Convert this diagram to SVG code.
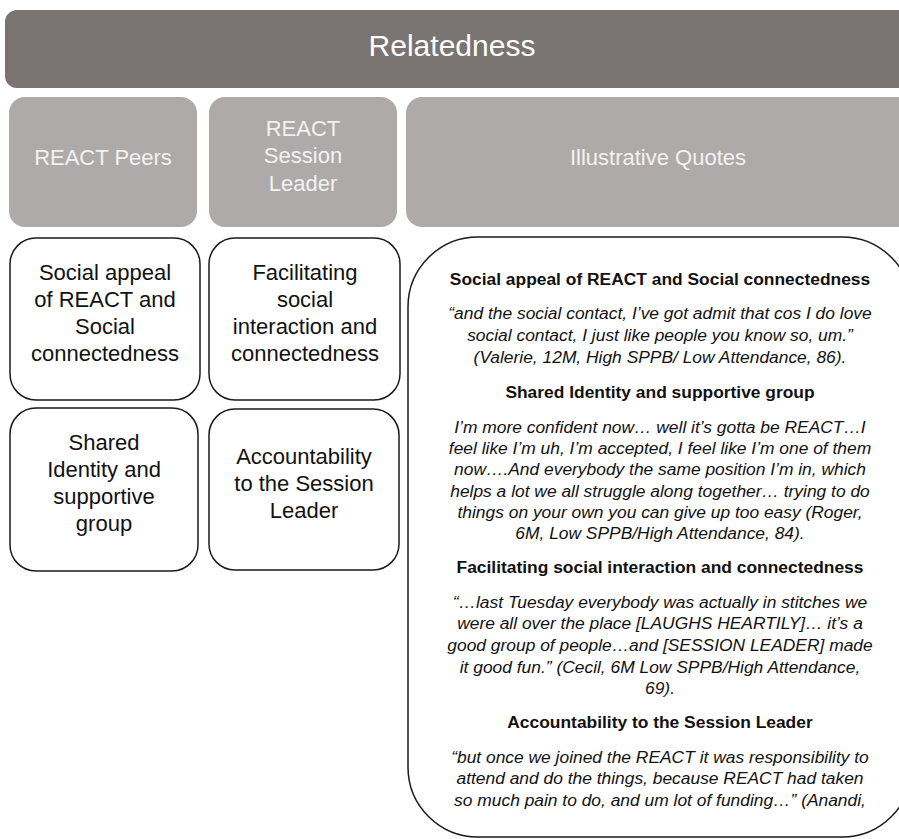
<svg xmlns="http://www.w3.org/2000/svg" width="899" height="839" viewBox="0 0 899 839">
<style>
.hdr{fill:#797371}
.cat{fill:#aeaaa9}
.box{fill:#fff;stroke:#1a1a1a;stroke-width:1.5}
.t-main{font-family:"Liberation Sans",Arial,sans-serif;font-size:30px;fill:#fff;text-anchor:middle}
.t-cat{font-family:"Liberation Sans",Arial,sans-serif;font-size:22px;fill:#f2f2f2;text-anchor:middle}
.t-box{font-family:"Liberation Sans",Arial,sans-serif;font-size:22px;fill:#111;text-anchor:middle}
.t-h{font-family:"Liberation Sans",Arial,sans-serif;font-size:17.4px;font-weight:bold;fill:#111;text-anchor:middle}
.t-q{font-family:"Liberation Sans",Arial,sans-serif;font-size:17.4px;font-style:italic;fill:#111;text-anchor:middle}
</style>
<rect width="899" height="839" fill="#fff"/>
<g id="relatedness">
<rect class="hdr" x="5" y="10" width="910" height="78" rx="12"/>
<text class="t-main" x="452" y="56">Relatedness</text>
</g>
<g id="react-peers">
<rect class="cat" x="9" y="97" width="188" height="130" rx="16"/>
<text class="t-cat" x="103" y="165">REACT Peers</text>
</g>
<g id="react-session-leader">
<rect class="cat" x="209" y="97" width="188" height="130" rx="16"/>
<text class="t-cat" x="303" y="136">REACT</text>
<text class="t-cat" x="303" y="163">Session</text>
<text class="t-cat" x="303" y="191">Leader</text>
</g>
<g id="illustrative-quotes">
<rect class="cat" x="406" y="97" width="510" height="130" rx="16"/>
<text class="t-cat" x="658" y="165">Illustrative Quotes</text>
</g>
<g id="social-appeal">
<rect class="box" x="10" y="238" width="190" height="162" rx="26"/>
<text class="t-box" x="105" y="280">Social appeal</text>
<text class="t-box" x="105" y="307">of REACT and</text>
<text class="t-box" x="105" y="334">Social</text>
<text class="t-box" x="105" y="361">connectedness</text>
</g>
<g id="facilitating">
<rect class="box" x="209" y="238" width="191" height="162" rx="26"/>
<text class="t-box" x="305" y="280">Facilitating</text>
<text class="t-box" x="305" y="307">social</text>
<text class="t-box" x="305" y="334">interaction and</text>
<text class="t-box" x="305" y="361">connectedness</text>
</g>
<g id="shared-identity">
<rect class="box" x="10" y="408" width="188" height="163" rx="26"/>
<text class="t-box" x="104" y="450">Shared</text>
<text class="t-box" x="104" y="477">Identity and</text>
<text class="t-box" x="104" y="504">supportive</text>
<text class="t-box" x="104" y="531">group</text>
</g>
<g id="accountability">
<rect class="box" x="209" y="409" width="190" height="161" rx="26"/>
<text class="t-box" x="304" y="464">Accountability</text>
<text class="t-box" x="304" y="491">to the Session</text>
<text class="t-box" x="304" y="518">Leader</text>
</g>
<g id="quotes">
<rect class="box" x="408" y="237" width="504" height="600" rx="70"/>
<text class="t-h" x="660" y="285">Social appeal of REACT and Social connectedness</text>
<text class="t-q" x="660" y="319">“and the social contact, I’ve got admit that cos I do love</text>
<text class="t-q" x="660" y="341">social contact, I just like people you know so, um.”</text>
<text class="t-q" x="660" y="363">(Valerie, 12M, High SPPB/ Low Attendance, 86).</text>
<text class="t-h" x="660" y="398">Shared Identity and supportive group</text>
<text class="t-q" x="660" y="433">I’m more confident now… well it’s gotta be REACT…I</text>
<text class="t-q" x="660" y="454">feel like I’m uh, I’m accepted, I feel like I’m one of them</text>
<text class="t-q" x="660" y="475">now….And everybody the same position I’m in, which</text>
<text class="t-q" x="660" y="497">helps a lot we all struggle along together… trying to do</text>
<text class="t-q" x="660" y="518">things on your own you can give up too easy (Roger,</text>
<text class="t-q" x="660" y="539">6M, Low SPPB/High Attendance, 84).</text>
<text class="t-h" x="660" y="573">Facilitating social interaction and connectedness</text>
<text class="t-q" x="660" y="608">“…last Tuesday everybody was actually in stitches we</text>
<text class="t-q" x="660" y="629">were all over the place [LAUGHS HEARTILY]… it’s a</text>
<text class="t-q" x="660" y="651">good group of people…and [SESSION LEADER] made</text>
<text class="t-q" x="660" y="673">it good fun.” (Cecil, 6M Low SPPB/High Attendance,</text>
<text class="t-q" x="660" y="694">69).</text>
<text class="t-h" x="660" y="728">Accountability to the Session Leader</text>
<text class="t-q" x="660" y="763">“but once we joined the REACT it was responsibility to</text>
<text class="t-q" x="660" y="784">attend and do the things, because REACT had taken</text>
<text class="t-q" x="660" y="806">so much pain to do, and um lot of funding…” (Anandi,</text>
</g>
<g id="connectors"></g>
</svg>
